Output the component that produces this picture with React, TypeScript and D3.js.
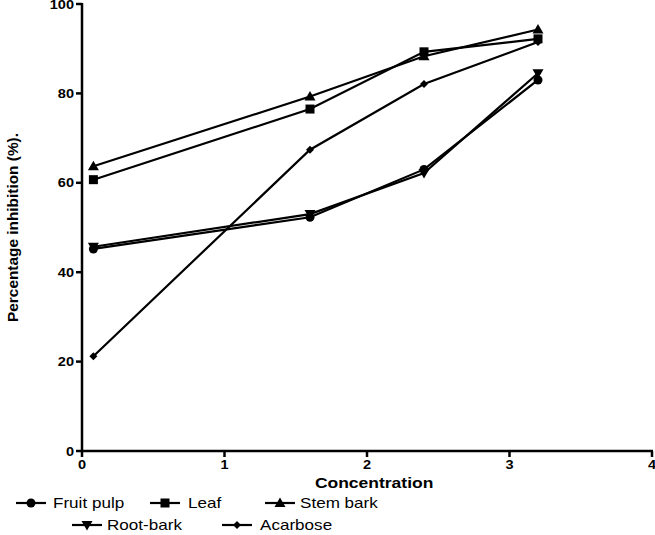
import React from "react";
import * as d3 from "d3";

const concentrations = [0.08, 1.6, 2.4, 3.2];
const seriesNames = ["Fruit pulp", "Leaf", "Stem bark", "Root-bark", "Acarbose"];
const fruitPulp = [45.2, 52.3, 63.0, 83.0];
const leaf = [60.7, 76.5, 89.3, 92.2];
const stemBark = [63.7, 79.3, 88.3, 94.3];
const rootBark = [45.7, 53.0, 62.2, 84.5];
const acarbose = [21.2, 67.4, 82.1, 91.5];
const xTicks = [0, 1, 2, 3, 4];
const yTicks = [0, 20, 40, 60, 80, 100];

const seriesValues = [fruitPulp, leaf, stemBark, rootBark, acarbose];
const symbolTypes = ["circle", "square", "triangle", "down", "diamond"];

function Marker({ type, x, y }: { type: string; x: number; y: number }) {
  if (type === "circle") return <circle cx={x} cy={y} r={4.5} fill="#000" />;
  if (type === "square") return <rect x={x - 4.5} y={y - 4.5} width={9} height={9} fill="#000" />;
  if (type === "triangle")
    return <path d={`M${x},${y - 5.5}L${x + 5.5},${y + 4}L${x - 5.5},${y + 4}Z`} fill="#000" />;
  if (type === "down")
    return <path d={`M${x},${y + 5.5}L${x + 5.5},${y - 4}L${x - 5.5},${y - 4}Z`} fill="#000" />;
  return <path d={`M${x},${y - 4}L${x + 4},${y}L${x},${y + 4}L${x - 4},${y}Z`} fill="#000" />;
}

export default function App() {
  const W = 655, H = 535;
  const x = d3.scaleLinear().domain([0, 4]).range([82, 652]);
  const y = d3.scaleLinear().domain([0, 100]).range([451, 4]);
  const line = d3
    .line<number>()
    .x((_, i) => x(concentrations[i]))
    .y((d) => y(d));
  const font = "'Liberation Sans', Arial, sans-serif";

  const legendItems = [
    { sx: 16, ty: 508, tx: 53 },
    { sx: 150, ty: 508, tx: 188 },
    { sx: 265, ty: 508, tx: 300 },
    { sx: 72, ty: 530, tx: 107 },
    { sx: 222, ty: 530, tx: 260 },
  ];

  return (
    <svg
      width={W}
      height={H}
      style={{ position: "absolute", left: 0, top: 0 }}
      fontFamily={font}
    >
      <rect width={W} height={H} fill="#fff" />
      {seriesValues.map((vals, si) => (
        <g key={si}>
          <path d={line(vals) || ""} fill="none" stroke="#000" strokeWidth={2.2} />
          {vals.map((v, i) => (
            <Marker key={i} type={symbolTypes[si]} x={x(concentrations[i])} y={y(v)} />
          ))}
        </g>
      ))}
      {/* Y axis */}
      <line x1={x(0)} x2={x(0)} y1={y(100) - 1} y2={y(0) + 1} stroke="#000" strokeWidth={2.5} />
      {yTicks.map((t) => (
        <g key={t}>
          <line x1={x(0) - 6} x2={x(0)} y1={y(t)} y2={y(t)} stroke="#000" strokeWidth={2.5} />
          <text
            transform={`translate(${x(0) - 8},${y(t) + 4.5}) scale(1.12,1)`}
            textAnchor="end"
            fontSize={13}
            fontWeight="bold"
          >
            {t}
          </text>
        </g>
      ))}
      {/* X axis */}
      <line x1={x(0) - 1} x2={x(4) + 1} y1={y(0)} y2={y(0)} stroke="#000" strokeWidth={2.5} />
      {xTicks.map((t) => (
        <g key={t}>
          <line x1={x(t)} x2={x(t)} y1={y(0)} y2={y(0) + 6} stroke="#000" strokeWidth={2.5} />
          <text
            transform={`translate(${x(t)},469) scale(1.12,1)`}
            textAnchor="middle"
            fontSize={13}
            fontWeight="bold"
          >
            {t}
          </text>
        </g>
      ))}
      <text
        transform={`translate(${x(2.05)},488) scale(1.25,1)`}
        textAnchor="middle"
        fontSize={14}
        fontWeight="bold"
      >
        Concentration
      </text>
      <text
        transform={`translate(13,${y(50)}) rotate(-90) scale(1.1,1)`}
        textAnchor="middle"
        fontSize={14}
        fontWeight="bold"
        dy="0.35em"
      >
        Percentage inhibition (%).
      </text>
      {/* Legend */}
      {legendItems.map((it, i) => (
        <g key={i}>
          <line x1={it.sx} x2={it.sx + 30} y1={it.ty - 5} y2={it.ty - 5} stroke="#000" strokeWidth={2.2} />
          <Marker type={symbolTypes[i]} x={it.sx + 15} y={it.ty - 5} />
          <text transform={`translate(${it.tx},${it.ty}) scale(1.22,1)`} fontSize={14}>
            {seriesNames[i]}
          </text>
        </g>
      ))}
    </svg>
  );
}
